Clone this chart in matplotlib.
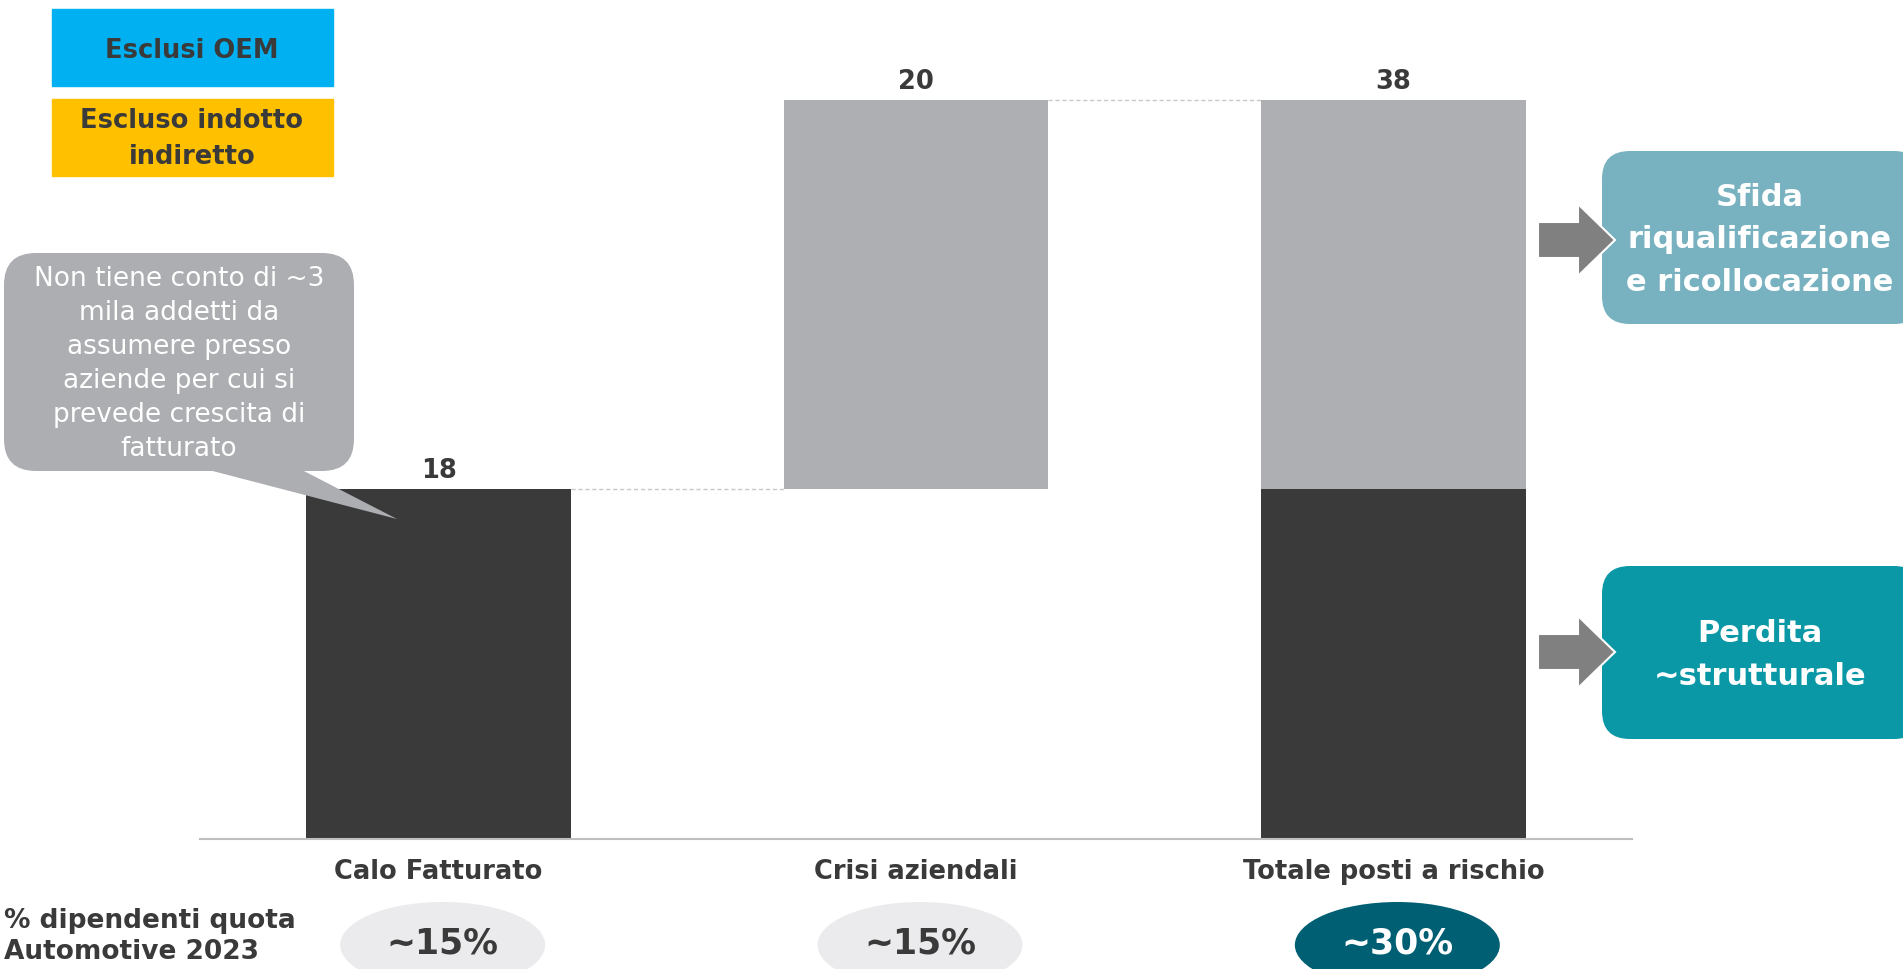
import numpy as np
import matplotlib
matplotlib.use("Agg")
import matplotlib.pyplot as plt
from matplotlib.patches import FancyBboxPatch, Polygon, Ellipse, Rectangle

plt.rcParams['font.family'] = ['DejaVu Sans']

# dati (migliaia di addetti)
categories = ['Calo Fatturato', 'Crisi aziendali', 'Totale posti a rischio']
calo_fatturato = 18
crisi_aziendali = 20
totale = calo_fatturato + crisi_aziendali
quota_2023 = ['~15%', '~15%', '~30%']

dark_vals = [calo_fatturato, 0, calo_fatturato]
gray_vals = [0, crisi_aziendali, crisi_aziendali]
gray_bottom = [0, calo_fatturato, calo_fatturato]
top_labels = [calo_fatturato, crisi_aziendali, totale]
top_heights = [calo_fatturato, totale, totale]

note_text = ("Non tiene conto di ~3\nmila addetti da\nassumere presso\n"
             "aziende per cui si\nprevede crescita di\nfatturato")

DARK = '#3a3a3a'
GRAY = '#aeafb3'
TXT = '#3a3a3a'

W, H = 1903, 970
fig = plt.figure(figsize=(W / 100, H / 100), dpi=100)
fig.patch.set_facecolor('white')

# asse principale con le barre (coordinate in pixel convertite in frazioni)
ax = fig.add_axes([200 / W, (H - 840) / H, 1432 / W, 739 / H])
ax.set_facecolor('none')
x = np.arange(len(categories))
bw = 0.555
ax.bar(x, dark_vals, width=bw, color=DARK, zorder=2)
ax.bar(x, gray_vals, width=bw, bottom=gray_bottom, color=GRAY, zorder=2)
ax.set_xlim(-0.5, 2.5)
ax.set_ylim(0, totale)

for xi, lab, h in zip(x, top_labels, top_heights):
    ax.annotate(f'{lab}', (xi, h), xytext=(0, 4), textcoords='offset points',
                ha='center', va='bottom', fontsize=18.5, fontweight='bold',
                color=TXT, annotation_clip=False)

# linee di raccordo tratteggiate
ax.plot([0 + bw / 2, 1 - bw / 2], [calo_fatturato, calo_fatturato],
        ls=(0, (3, 2)), color='#c8c8c8', lw=1, zorder=1)
ax.plot([1 + bw / 2, 2 - bw / 2], [totale, totale],
        ls=(0, (3, 2)), color='#c8c8c8', lw=1, zorder=1, clip_on=False)

for s in ['top', 'right', 'left']:
    ax.spines[s].set_visible(False)
ax.spines['bottom'].set_color('#bfbfbf')
ax.spines['bottom'].set_linewidth(1.5)
ax.set_yticks([])
ax.set_xticks(x)
ax.set_xticklabels(categories, fontsize=18.5, fontweight='bold', color=TXT)
ax.tick_params(axis='x', length=0, pad=14)

# livello sovrapposto in pixel per box, frecce e ellissi
ov = fig.add_axes([0, 0, 1, 1])
ov.set_xlim(0, W)
ov.set_ylim(H, 0)
ov.axis('off')
ov.set_facecolor('none')

# legenda in alto a sinistra
ov.add_patch(Rectangle((52, 10), 281, 77, color='#00b0f0'))
ov.text(192, 51, 'Esclusi OEM', ha='center', va='center', fontsize=18.5,
        fontweight='bold', color=TXT)
ov.add_patch(Rectangle((52, 100), 281, 77, color='#ffc000'))
ov.text(192, 139, 'Escluso indotto\nindiretto', ha='center', va='center',
        fontsize=18.5, fontweight='bold', color=TXT, linespacing=1.45)

# nota a fumetto
ov.add_patch(FancyBboxPatch((4, 254), 350, 218,
                            boxstyle='round,pad=0,rounding_size=32',
                            fc='#adaeb2', ec='none', zorder=3))
ov.add_patch(Polygon([(205, 470), (300, 470), (397, 520)], closed=True,
                     fc='#adaeb2', ec='none', zorder=3))
ov.text(179, 364, note_text, ha='center', va='center', fontsize=19,
        color='white', linespacing=1.4, zorder=4)


def freccia(yc):
    pts = [(1538, yc - 18), (1578, yc - 18), (1578, yc - 36), (1615, yc),
           (1578, yc + 36), (1578, yc + 18), (1538, yc + 18)]
    ov.add_patch(Polygon(pts, closed=True, fc='#808080', ec='white',
                         lw=1.5, zorder=5))


# box a destra
ov.add_patch(FancyBboxPatch((1602, 152), 320, 173,
                            boxstyle='round,pad=0,rounding_size=28',
                            fc='#78b1bf', ec='none', zorder=3))
ov.text(1760, 240, 'Sfida\nriqualificazione\ne ricollocazione',
        ha='center', va='center', fontsize=22, fontweight='bold',
        color='white', linespacing=1.57, zorder=4)
ov.add_patch(FancyBboxPatch((1602, 567), 320, 173,
                            boxstyle='round,pad=0,rounding_size=28',
                            fc='#0a97a6', ec='none', zorder=3))
ov.text(1760, 655, 'Perdita\n~strutturale', ha='center', va='center',
        fontsize=22, fontweight='bold', color='white', linespacing=1.57,
        zorder=4)
freccia(241)
freccia(653)

# riga inferiore: quota dipendenti
ov.text(4, 937, '% dipendenti quota\nAutomotive 2023', ha='left',
        va='center', fontsize=19, fontweight='bold', color=TXT,
        linespacing=1.25)
fig.canvas.draw()
for xi, q in zip(x, quota_2023):
    px = ax.transData.transform((xi, 0))[0]
    dark = xi == x[-1]
    ov.add_patch(Ellipse((px + 4, 946), 205, 86,
                         fc='#005f73' if dark else '#ebebed', ec='none'))
    ov.text(px + 4, 944, q, ha='center', va='center', fontsize=25,
            fontweight='bold', color='white' if dark else TXT)

fig.savefig('out.png', dpi=100)
